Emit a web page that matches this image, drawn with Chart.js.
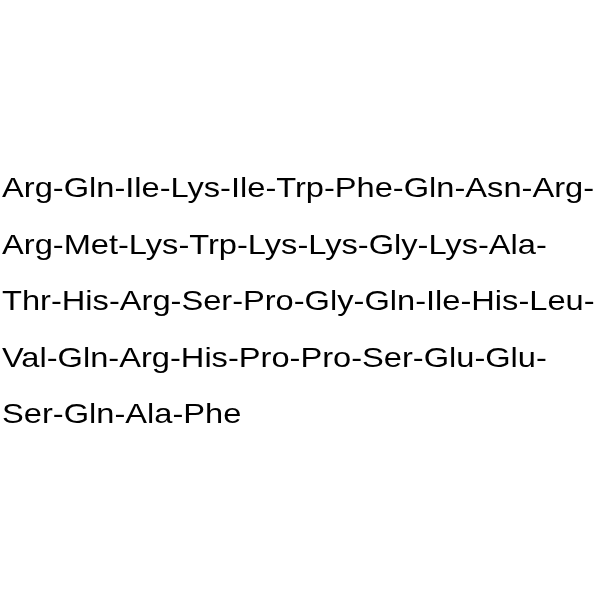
<!DOCTYPE html>
<html>
<head>
<meta charset="utf-8">
<script src="https://cdn.jsdelivr.net/npm/chart.js@4"></script>
<style>
  html, body { margin: 0; padding: 0; background: #fff; }
  #wrap { width: 600px; height: 600px; }
</style>
</head>
<body>
<div id="wrap"><canvas id="seq"></canvas></div>
<script>
// peptide sequence, one entry per printed line
const lines = [
  'Arg-Gln-Ile-Lys-Ile-Trp-Phe-Gln-Asn-Arg-',
  'Arg-Met-Lys-Trp-Lys-Lys-Gly-Lys-Ala-',
  'Thr-His-Arg-Ser-Pro-Gly-Gln-Ile-His-Leu-',
  'Val-Gln-Arg-His-Pro-Pro-Ser-Glu-Glu-',
  'Ser-Gln-Ala-Phe'
];
const lineIndex = lines.map((_, i) => i);

// draws each line of text at the y position of its index on the y scale
const textPlugin = {
  id: 'seqText',
  afterDraw(chart) {
    const ctx = chart.ctx;
    const y = chart.scales.y;
    const x = chart.scales.x;
    const left = x.getPixelForValue(0);
    const right = x.getPixelForValue(1);
    ctx.save();
    ctx.fillStyle = '#000';
    ctx.font = '28px "Liberation Sans", Arial, sans-serif';
    ctx.textBaseline = 'alphabetic';
    ctx.textAlign = 'left';
    // the reference glyphs are a bit wider than the plain font, stretch to fit
    const sx = (right - left) / ctx.measureText(lines[0]).width;
    lines.forEach((t, i) => {
      ctx.save();
      ctx.translate(left, y.getPixelForValue(lineIndex[i]));
      ctx.scale(sx, 1);
      ctx.fillText(t, 0, 0);
      ctx.restore();
    });
    ctx.restore();
  }
};

new Chart(document.getElementById('seq'), {
  type: 'scatter',
  data: {
    datasets: [{
      data: lineIndex.map(i => ({ x: 0, y: i })),
      pointRadius: 0,
      pointHoverRadius: 0
    }]
  },
  options: {
    responsive: true,
    maintainAspectRatio: false,
    animation: false,
    layout: { padding: 0 },
    plugins: { legend: { display: false }, tooltip: { enabled: false } },
    scales: {
      x: { type: 'linear', min: -0.0034, max: 1.0101, display: false },
      y: { type: 'linear', min: -3.49, max: 7.13, reverse: true, display: false }
    }
  },
  plugins: [textPlugin]
});
</script>
</body>
</html>
